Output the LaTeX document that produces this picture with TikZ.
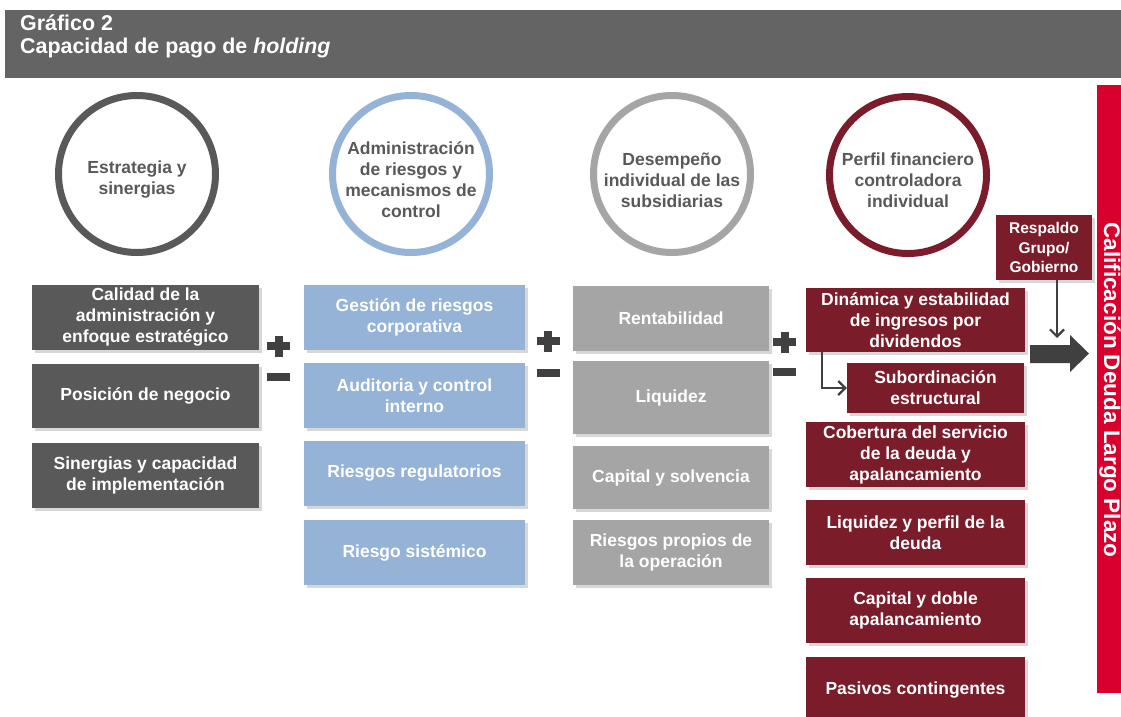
\documentclass[tikz,border=0pt]{standalone}
\usepackage{fontspec}
\setmainfont{Liberation Sans}
\usetikzlibrary{shadows,arrows.meta}
\definecolor{titlegray}{HTML}{646464}
\definecolor{gone}{HTML}{595959}
\definecolor{bluec}{HTML}{95B3D7}
\definecolor{gthree}{HTML}{A5A5A5}
\definecolor{redc}{HTML}{7B1C2B}
\definecolor{brightred}{HTML}{D9002E}
\definecolor{arrowc}{HTML}{404040}
\newcommand\bxfont{\fontsize{17.5}{21}\selectfont\bfseries}
\newcommand\smfont{\fontsize{15.5}{19.5}\selectfont\bfseries}
\newcommand\ttlfont{\fontsize{21.4}{23}\selectfont\bfseries}
\begin{document}
\begin{tikzpicture}[x=1pt,y=-1pt,
  bx/.style={rectangle, inner sep=0pt, align=center, text=white, font=\bxfont,
     drop shadow={shadow xshift=2.5pt, shadow yshift=-2.5pt, fill=black!22, opacity=0.7}},
  circ/.style={circle, inner sep=0pt, minimum size=157pt, line width=7pt, fill=white,
     drop shadow={shadow xshift=2pt, shadow yshift=-2pt, fill=black!15, opacity=0.6}},
  ctext/.style={align=center, text=gone, font=\bxfont, inner sep=0pt},
  sign/.style={fill=arrowc},
  thinarrow/.style={draw=arrowc, line width=2.5pt, -{Straight Barb[length=7pt,width=14pt,line width=2.2pt]}}
]
\useasboundingbox (0,0) rectangle (1121,716);
\fill[white] (0,0) rectangle (1121,716);

% title
\node[rectangle, fill=titlegray, inner sep=0pt, minimum width=1121pt, minimum height=68pt, anchor=north west] (title) at (5,10) {};
\node[anchor=base west, text=white, font=\ttlfont, inner sep=0pt] (t1) at (20,30) {Gráfico 2};
\node[anchor=base west, text=white, font=\ttlfont, inner sep=0pt] (t2) at (20,53) {Capacidad de pago de \textit{holding}};

% circles
\node[circ, draw=gone] (c1) at (137,174) {};
\node[ctext] (c1t) at (137,180) {Estrategia y\\sinergias};
\node[circ, draw=bluec] (c2) at (411,174) {};
\node[ctext] (c2t) at (411,180) {Administración\\de riesgos y\\mecanismos de\\control};
\node[circ, draw=gthree] (c3) at (672,174) {};
\node[ctext] (c3t) at (672,180) {Desempeño\\individual de las\\subsidiarias};
\node[circ, draw=redc] (c4) at (908,175) {};
\node[ctext] (c4t) at (908,180) {Perfil financiero\\controladora\\individual};

% column 1
\node[bx, fill=gone, minimum width=227pt, minimum height=65pt] (a1) at (145.5,317.5) {Calidad de la\\administración y\\enfoque estratégico};
\node[bx, fill=gone, minimum width=227pt, minimum height=64pt] (a2) at (145.5,396) {Posición de negocio};
\node[bx, fill=gone, minimum width=227pt, minimum height=65pt] (a3) at (145.5,475.5) {Sinergias y capacidad\\de implementación};

% column 2
\node[bx, fill=bluec, minimum width=221pt, minimum height=65pt] (b1) at (414.5,317.5) {Gestión de riesgos\\corporativa};
\node[bx, fill=bluec, minimum width=221pt, minimum height=65pt] (b2) at (414.5,395.5) {Auditoria y control\\interno};
\node[bx, fill=bluec, minimum width=221pt, minimum height=65pt] (b3) at (414.5,473.5) {Riesgos regulatorios};
\node[bx, fill=bluec, minimum width=221pt, minimum height=65pt] (b4) at (414.5,552.5) {Riesgo sistémico};

% column 3
\node[bx, fill=gthree, minimum width=196pt, minimum height=65pt] (d1) at (671,318.5) {Rentabilidad};
\node[bx, fill=gthree, minimum width=196pt, minimum height=73pt] (d2) at (671,397.5) {Liquidez};
\node[bx, fill=gthree, minimum width=196pt, minimum height=63pt] (d3) at (671,477.5) {Capital y solvencia};
\node[bx, fill=gthree, minimum width=196pt, minimum height=65pt] (d4) at (671,552.5) {Riesgos propios de\\la operación};

% column 4
\node[bx, fill=redc, minimum width=219pt, minimum height=64pt] (e1) at (915.5,320) {Dinámica y estabilidad\\de ingresos por\\dividendos};
\node[bx, fill=redc, minimum width=177pt, minimum height=50pt] (sub) at (935.5,388) {Subordinación\\estructural};
\node[bx, fill=redc, minimum width=219pt, minimum height=65pt] (e2) at (915.5,454.5) {Cobertura del servicio\\de la deuda y\\apalancamiento};
\node[bx, fill=redc, minimum width=219pt, minimum height=65pt] (e3) at (915.5,532.5) {Liquidez y perfil de la\\deuda};
\node[bx, fill=redc, minimum width=219pt, minimum height=65pt] (e4) at (915.5,610.5) {Capital y doble\\apalancamiento};
\node[bx, fill=redc, minimum width=219pt, minimum height=65pt] (e5) at (915.5,689.5) {Pasivos contingentes};

% respaldo
\node[bx, fill=redc, font=\smfont, minimum width=96pt, minimum height=65pt] (resp) at (1044,247.5) {Respaldo\\Grupo/\\Gobierno};

% red bar
\node[rectangle, fill=brightred, inner sep=0pt, minimum width=28pt, minimum height=608pt, anchor=north west] (bar) at (1097,85) {};
\node[rotate=-90, anchor=base, text=white, font=\fontsize{22.5}{24}\selectfont\bfseries, inner sep=0pt] (bart) at (1104,390) {Calificación Deuda Largo Plazo};

% plus / minus signs
\foreach \px/\py/\my in {278.5/346/377, 548/341/373, 784.5/342/372}{
  \fill[sign] (\px-11.5,\py-4) rectangle (\px+11.5,\py+4);
  \fill[sign] (\px-4,\py-10.5) rectangle (\px+4,\py+10.5);
  \fill[sign] (\px-11.5,\my-4) rectangle (\px+11.5,\my+4);
}

% big arrow
\fill[arrowc] (1030,345) -- (1070,345) -- (1070,335) -- (1089,353.5) -- (1070,372) -- (1070,363) -- (1030,363) -- cycle;
\coordinate (bigtop) at (1057,338);

% connectors
\draw[thinarrow] ([xshift=16pt]e1.south west) |- (sub.west);
\draw[thinarrow] (resp.south -| bigtop) -- (bigtop);
\end{tikzpicture}
\end{document}
